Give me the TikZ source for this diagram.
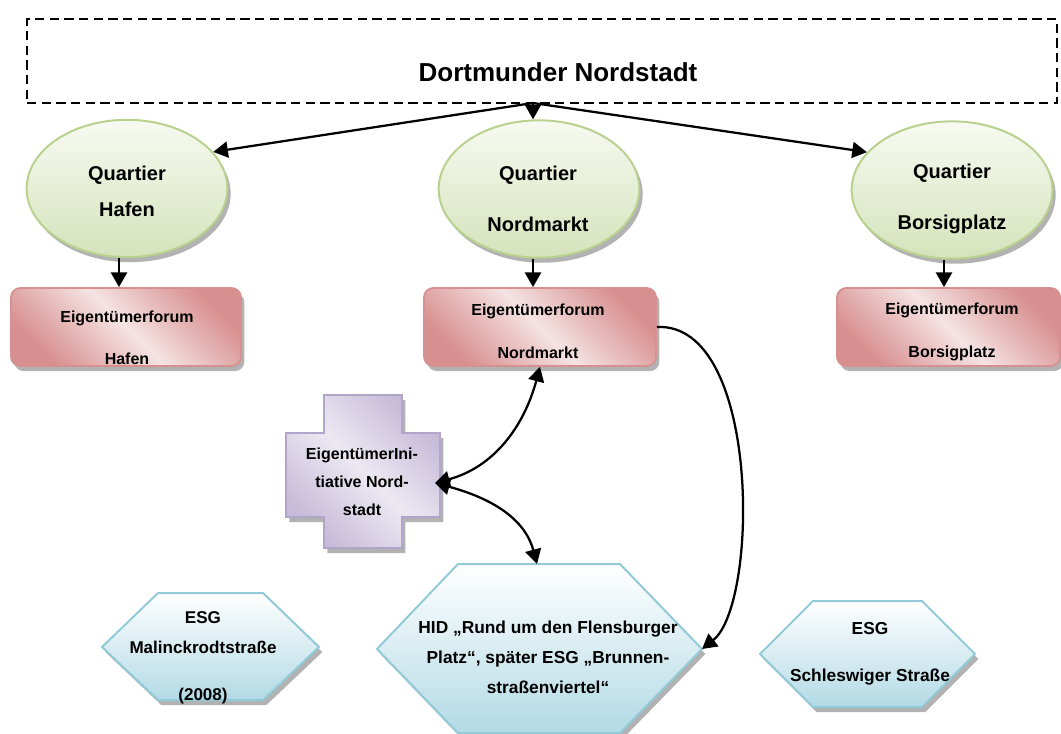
\documentclass[tikz,border=0pt]{standalone}
\usepackage{fontspec}
\setmainfont{Liberation Sans}
\usetikzlibrary{shapes.geometric, arrows.meta, shadows, calc}

\definecolor{elB}{HTML}{B9D18F}
\definecolor{elT}{HTML}{F7FAF1}
\definecolor{elBot}{HTML}{D5E3BB}
\definecolor{pkB}{HTML}{D69090}
\definecolor{pkD}{HTML}{D88F8F}
\definecolor{pkL}{HTML}{F5E3E3}
\definecolor{crB}{HTML}{B1A5C9}
\definecolor{crD}{HTML}{C6BAD8}
\definecolor{crL}{HTML}{ECE8F2}
\definecolor{hxB}{HTML}{93CAD8}
\definecolor{hxBot}{HTML}{B3DAE5}

\begin{document}
\begin{tikzpicture}[x=0.75pt, y=-0.75pt,
  shad/.style={drop shadow={shadow xshift=2.5pt, shadow yshift=-3.8pt, fill=black, opacity=0.3}},
  quart/.style={ellipse, draw=elB, line width=1.5pt, top color=elT, bottom color=elBot, minimum width=150.5pt, minimum height=103pt, inner sep=0pt, shad},
  forum/.style={rectangle, rounded corners=7pt, draw=pkB, line width=1.3pt, top color=pkD, bottom color=pkD, middle color=pkL, shading angle=-45, minimum height=58.5pt, inner sep=0pt, shad},
  crossst/.style={draw=crB, line width=1.2pt, top color=crD, bottom color=crD, middle color=crL, shading angle=-45, shad},
  hexa/.style={draw=hxB, line width=1.5pt, top color=white, bottom color=hxBot, shad},
  arr/.style={line width=1.7pt, -{Triangle[length=11pt,width=12pt]}},
  darr/.style={line width=1.7pt, {Triangle[length=11pt,width=12pt]}-{Triangle[length=11pt,width=12pt]}},
  lbl/.style={align=center, inner sep=0pt}
]
\useasboundingbox (0,0) rectangle (1061,734);

% title box
\node[draw, dash pattern=on 7pt off 4pt, line width=1.4pt, minimum width=772.5pt, minimum height=63pt, inner sep=0pt] (box) at (542,61) {};
\node[lbl, font=\fontsize{19.5}{24}\selectfont\bfseries] (title) at (558,72) {Dortmunder Nordstadt};
\coordinate (hub) at (533,103);

% Quartiere
\node[quart] (hafQ) at (127,188.5) {};
\node[quart] (norQ) at (539,189) {};
\node[quart] (borQ) at (952,190) {};
\node[lbl, font=\fontsize{15}{27}\selectfont\bfseries] (hafQt) at (127,191) {Quartier\\Hafen};
\node[lbl, font=\fontsize{15}{38.25}\selectfont\bfseries] (norQt) at (538,198.5) {Quartier\\Nordmarkt};
\node[lbl, font=\fontsize{15}{38.25}\selectfont\bfseries] (borQt) at (952,198.5) {Quartier\\Borsigplatz};

% Eigentümerforen
\node[forum, minimum width=172.5pt] (hafF) at (126,327) {};
\node[forum, minimum width=174pt] (norF) at (540,327) {};
\node[forum, minimum width=167.25pt] (borF) at (948.5,327) {};
\node[lbl, font=\fontsize{12}{31.5}\selectfont\bfseries] (hafFt) at (127,338) {Eigentümerforum\\Hafen};
\node[lbl, font=\fontsize{12}{32.25}\selectfont\bfseries] (norFt) at (538,331.5) {Eigentümerforum\\Nordmarkt};
\node[lbl, font=\fontsize{12}{32.25}\selectfont\bfseries] (borFt) at (952,331.5) {Eigentümerforum\\Borsigplatz};

% cross
\path[crossst] (324,395) -- (402,395) -- (402,433) -- (440,433) -- (440,517) -- (402,517)
  -- (402,548) -- (324,548) -- (324,517) -- (286,517) -- (286,433) -- (324,433) -- cycle;
\node[lbl, font=\fontsize{12}{21}\selectfont\bfseries] (crossT) at (362,482) {EigentümerIni-\\tiative Nord-\\stadt};
\coordinate (crossR) at (435,483);

% hexagons
\path[hexa] (158,593) -- (263,593) -- (319,647) -- (263,700) -- (158,700) -- (102,647) -- cycle;
\node[lbl, font=\fontsize{12.8}{22.5}\selectfont\bfseries] (malT) at (203,657.5) {ESG\\Malinckrodtstraße\\[12.75pt](2008)};

\path[hexa] (458,564) -- (620,564) -- (702,649) -- (620,733) -- (458,733) -- (377,649) -- cycle;
\coordinate (hidTop) at (537,564);
\coordinate (hidRight) at (702,649);
\node[lbl, font=\fontsize{13}{22.5}\selectfont\bfseries] (hidT) at (548,657) {HID „Rund um den Flensburger\\Platz“, später ESG „Brunnen-\\straßenviertel“};

\path[hexa] (813,601) -- (922,601) -- (975,654) -- (922,707) -- (813,707) -- (760,654) -- cycle;
\node[lbl, font=\fontsize{13}{35.25}\selectfont\bfseries] (schT) at (870,653.5) {ESG\\Schleswiger Straße};

% connectors from title box
\draw[arr] (hub) -- (hafQ.23);
\draw[arr] (hub) -- (borQ.156);
\draw[arr] (hub) -- (hub |- norQ.north);

% Quartier -> Forum
\coordinate (a1) at ([xshift=-6pt]hafQ.south);
\coordinate (a2) at ([xshift=-4.5pt]norQ.south);
\coordinate (a3) at ([xshift=-6pt]borQ.south);
\draw[arr] (a1) -- (a1 |- hafF.north);
\draw[arr] (a2) -- (a2 |- norF.north);
\draw[arr] (a3) -- (a3 |- borF.north);

% cross connections
\draw[darr] (crossR) to[out=15, in=-105] (norF.south);
\draw[darr] (crossR) to[out=-15, in=105] (hidTop);

% forum Nordmarkt -> HID
\draw[arr] (norF.east) .. controls +(104,-5) and +(57,-45) .. (hidRight);
\end{tikzpicture}
\end{document}
